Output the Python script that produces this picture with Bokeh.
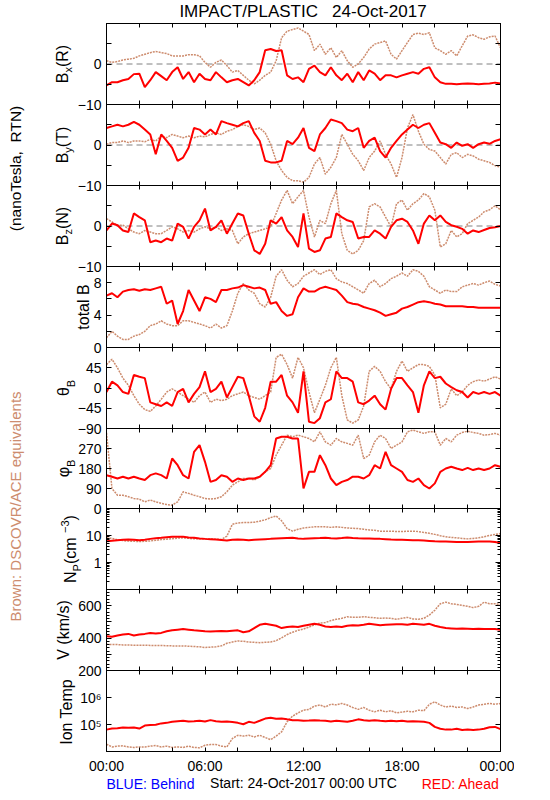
from bokeh.plotting import figure
from bokeh.models import Range1d, LinearAxis, LogAxis, FixedTicker, Label, Span
from bokeh.layouts import column
from bokeh.embed import file_html
from bokeh.resources import INLINE

FONT = "Liberation Sans"
RED = "#ff0000"
BROWN = "#cd8c6e"
BLUE = "#0000ff"

# ---------------- data (20-minute samples, 24-Oct-2017) ----------------
MINUTES = [0, 20, 40, 60, 80, 100, 120, 140, 160, 180, 200, 220,
           240, 260, 280, 300, 320, 340, 360, 380, 400, 420, 440, 460,
           480, 500, 520, 540, 560, 580, 600, 620, 640, 660, 680, 700,
           720, 740, 760, 780, 800, 820, 840, 860, 880, 900, 920, 940,
           960, 980, 1000, 1020, 1040, 1060, 1080, 1100, 1120, 1140, 1160, 1180,
           1200, 1220, 1240, 1260, 1280, 1300, 1320, 1340, 1360, 1380, 1400, 1420,
           1440]

BX_RED = [-5.3, -4.5, -4.5, -4, -3.7, -2.5, -2.4, -5.7, -4, -2, -3, -4,
          -2, -0.8, -3.7, -2, -4.5, -2.4, -3.7, -4, -2, -3.3, -4.5, -4,
          -3.7, -4.5, -5.3, -4, -2, 3.4, 3.7, 3.2, 3.4, -2.8, -3.7, -3.3,
          -4.5, -1.2, -0.4, -2, -2.8, -0.8, -2.8, -4, -2.4, -4.5, -2, -4,
          -1.6, -2.4, -4, -2.8, -2.8, -3.3, -2.8, -2.4, -2, -2.4, -1.2, -0.8,
          -3.3, -4.5, -4.9, -4.9, -5, -4.9, -4.8, -4.9, -5, -4.9, -4.8, -4.6,
          -4.8]
BX_BROWN = [0.8, 0.4, 0.6, 1, 1.2, 1.4, 2, 2.4, 2.8, 3.1, 2.8, 2.6,
            2, 2, 2, 2.3, 2.3, 2, 0.4, -0.8, 0.4, 1, -0.4, -2,
            -1.6, -2.8, -4, -4.9, -4, -2.8, -2, 0.8, 6.5, 8.1, 8.5, 8.9,
            8.1, 7.3, 3.3, 4.9, 2.4, 4, 1.6, 3.3, 0.8, -0.8, 0, 1.6,
            3.7, 4.9, 5.3, 5.7, 2.4, 1.2, 3.3, 5.3, 7.3, 7.6, 7.3, 7.7,
            4, 3.3, 2.4, 3.3, 2, 4.5, 6.9, 7.2, 6.5, 6.1, 6.7, 6.9,
            4]

BY_RED = [4.2, 4.6, 5, 4.6, 5, 5.7, 5, 3.8, 2.6, -2.3, 2.6, 1,
          -0.7, -3.9, -3.1, -0.7, 4.2, 3.8, 2.6, 3.8, 2.6, 5.9, 5.4, 5,
          4.6, 5.4, 5.9, 3, 1, -3.9, -4.3, -4.3, -3.9, 1, 0.2, 1.8,
          4.2, -0.7, -1.5, 2.6, 4.2, 6.3, 5.9, 5.4, 3.8, 3.4, 4.2, -0.7,
          1, 1.8, -1.5, -3.1, -0.7, 1, 2.6, 3.8, 5, 4.2, 5, 5.4,
          3, 0.6, 0.2, -0.7, 0.6, -0.2, 0.2, -0.7, 0.2, 0.6, 0.3, 1,
          1.4]
BY_BROWN = [0.2, 0.6, 0.6, 1, 0.6, 1, 1, 0.8, 1.4, 1, 2.2, 1.8,
            2.6, 2.2, 1.8, 2.2, 1.8, 2.2, 2, 2.6, 3, 2.6, 3.4, 3.8,
            4.6, 5, 4.6, 3.8, 4.2, 3, 0.2, -3.9, -6.3, -8, -8.8, -8.8,
            -9.2, -8, -4.7, -3.1, -7.2, -5.5, -3.1, 2.6, 0.2, -2.3, -3.9, -6.3,
            -3.1, -1.5, 1, -2.3, -4.7, -8, -3.1, 4.2, 7.5, 3.4, 0.2, -1.1,
            -1.5, -3.1, -4.7, -2.3, -1.9, -3.1, -2.3, -2.7, -3.5, -3.9, -4.3, -5.1,
            -5.5]

BZ_RED = [-1.1, 0.6, 0.2, -1.1, -1.5, 3.1, 2.2, 1.4, -4, -3.6, -4, -3.1,
          -3.6, 0.6, -0.2, -3.1, -0.2, 1.4, 4.3, -1.1, -0.2, 1.4, -1.9, 0.6,
          3.1, 2.6, -1.9, -6, -6.9, -4.4, 1.4, 0.6, 2.2, -1.1, -2.7, -5.2,
          3.1, -5.6, -6.4, -6, -3.1, -2.7, 3.1, 2.2, 1.4, 1, -3.1, -2.7,
          -2.7, -1.1, -1.9, -3.1, -0.2, 1.4, 1.8, 1, -1.1, -4.4, 0.6, 2.6,
          1.4, 2.6, 1, 0.2, -0.2, -0.7, -1.9, -1.1, -1.5, -1, -0.5, -0.3,
          0]
BZ_BROWN = [1.8, 1, 0.2, 0.2, -0.7, -1.5, -1.9, -1.1, -1.5, -1.9, -1.9, -1.1,
            -0.2, -0.7, -1.5, -1.1, -1.5, -0.7, -0.2, -0.7, -0.2, -1.1, -0.7, -1.1,
            -4.4, -2.7, -1.9, -1.5, -1.1, -0.7, -0.2, 3.1, 6.4, 8.8, 5.5, 7.2,
            8.8, 2.2, -2.7, 1.4, 0.6, 5.5, 8.8, -1.9, -6, -6.9, -6, -3.6,
            4.7, 5.5, 4.7, 2.2, -0.2, 5.5, 6.4, 3.9, 5.5, 6.4, 8, 7.2,
            3.9, -5.2, -4.4, -1.1, -2.7, -1.9, 0.6, 1.4, 2.2, 3.5, 4, 5,
            4]

BT_RED = [6.4, 6.7, 6.2, 6.9, 7.1, 7.2, 7, 7.2, 7.1, 7.3, 7.5, 5.4,
          5.8, 2.9, 4.5, 7.1, 5.8, 4.5, 6.2, 6, 5.6, 7.1, 7.1, 7.3,
          7.4, 7.7, 7.5, 7.3, 7.4, 7.1, 5.4, 5.6, 4.5, 3.9, 4.1, 6.2,
          7.3, 6.9, 6.9, 7.3, 7.5, 7.3, 7.1, 6.4, 5.6, 5.4, 5.3, 5,
          4.8, 4.6, 4.3, 3.9, 4.1, 4.3, 4.8, 5, 5.3, 5.6, 5.7, 5.6,
          5.4, 5.3, 5.1, 5.1, 5.1, 5.1, 5, 5, 4.9, 4.9, 4.9, 4.9,
          4.9]
BT_BROWN = [1.2, 2, 1.4, 1, 1, 1.4, 1.6, 2, 2.7, 2.9, 3.3, 2.9,
            2.7, 2.7, 3.3, 3.3, 3.1, 2.9, 2.7, 2.4, 2.9, 2.4, 2.7, 4.5,
            6.7, 7.9, 7.1, 6.7, 5.4, 5, 6.2, 8.8, 9.6, 8.3, 7.5, 7.9,
            8.8, 9.2, 9.6, 9, 9.4, 9.6, 8.5, 8.1, 7.9, 7.5, 7.1, 6.7,
            7.9, 8.3, 7.5, 7.9, 8.5, 8.8, 9.2, 8.8, 9.6, 9.4, 8.8, 7.5,
            7.1, 6.7, 7.1, 6.9, 6.9, 7.5, 7.7, 7.9, 7.7, 8, 8.2, 7.8,
            7.6]

TH_RED = [-9, 14, 6, -9, -13, 29, 25, 22, -32, -36, -40, -32,
          -40, -9, -2, -32, -13, 2, 37, -9, -2, 14, -21, 2,
          25, 22, -17, -63, -75, -44, 14, 14, 29, -17, -32, -55,
          37, -75, -78, -67, -32, -25, 37, 22, 22, 14, -32, -36,
          -28, -17, -36, -48, -2, 22, 22, 6, -9, -55, 6, 37,
          22, 25, 10, 2, -5, -9, -21, -9, -13, -9, -13, -9,
          -17]
TH_BROWN = [52, 64, 45, 22, 6, -17, -36, -48, -52, -40, -25, -9,
            -2, -9, -17, -25, -32, -17, -9, -32, -25, -28, -25, -17,
            -13, -9, -17, -21, -25, -17, -9, 68, 75, 52, 22, 68,
            45, -9, -55, -25, 6, 45, 68, -17, -71, -78, -71, -40,
            37, 48, 37, 14, -2, 37, 60, 37, 45, 52, 52, 48,
            29, -44, -36, -2, -17, -9, 6, 14, 18, 15, 20, 25,
            20]

PH_RED = [150, 143, 135, 143, 135, 143, 135, 128, 150, 158, 150, 135,
          225, 195, 150, 135, 255, 285, 210, 120, 128, 150, 143, 120,
          135, 128, 135, 135, 143, 165, 195, 315, 323, 323, 315, 315,
          90, 165, 165, 240, 195, 135, 105, 120, 128, 143, 143, 135,
          150, 195, 180, 255, 195, 180, 165, 128, 120, 135, 105, 90,
          113, 165, 180, 188, 180, 173, 183, 173, 180, 173, 180, 195,
          188]
PH_BROWN = [340, 90, 60, 60, 53, 45, 42, 30, 38, 30, 23, 18,
            15, 30, 75, 68, 60, 53, 45, 42, 45, 53, 75, 105,
            120, 135, 135, 128, 143, 165, 180, 240, 285, 330, 323, 330,
            323, 315, 300, 345, 300, 285, 315, 300, 293, 285, 330, 225,
            240, 300, 330, 315, 270, 285, 300, 345, 353, 345, 338, 345,
            345, 285, 315, 300, 330, 342, 348, 342, 338, 330, 333, 338,
            330]

NP_RED = [6.1, 6.4, 6.7, 6.9, 7.1, 6.9, 6.7, 7.0, 7.5, 7.9, 8.2, 8.6,
          8.9, 9.0, 8.9, 8.5, 8.2, 7.8, 7.5, 7.3, 7.1, 6.8, 6.5, 6.9,
          7.1, 6.9, 6.7, 6.9, 7.1, 7.3, 7.5, 7.7, 7.9, 8.1, 8.2, 7.8,
          7.5, 7.7, 7.9, 8.0, 8.2, 7.9, 7.7, 8.0, 8.4, 8.1, 7.9, 7.8,
          7.7, 7.6, 7.5, 7.3, 7.1, 7.0, 6.9, 6.8, 6.7, 6.6, 6.5, 6.3,
          6.1, 6.0, 6.0, 5.9, 5.8, 5.8, 5.8, 5.9, 6.0, 6.0, 6.0, 5.7,
          5.3]
NP_BROWN = [8.2, 7.8, 7.0, 6.5, 6.2, 6.1, 6.0, 6.1, 6.3, 6.6, 7.1, 7.3,
            7.6, 8.0, 8.2, 7.9, 7.5, 7.5, 7.5, 7.4, 7.3, 7.1, 9.5, 26,
            29, 30, 30, 31, 34, 38, 46, 53, 35, 18, 14.5, 17,
            19, 20, 21, 21, 21, 20, 21, 20, 19, 18.5, 18, 17,
            16, 15.5, 14.5, 14.5, 14.5, 14, 14, 14.5, 14.5, 14, 13, 12,
            11, 9.8, 8.9, 8.5, 8.2, 7.8, 7.5, 7.8, 8.2, 9, 10, 11,
            11.9]

V_RED = [412, 408, 416, 422, 426, 416, 422, 426, 432, 428, 432, 442,
         448, 452, 456, 452, 448, 446, 442, 440, 442, 444, 442, 446,
         448, 436, 442, 462, 482, 488, 482, 476, 462, 468, 472, 468,
         476, 482, 488, 482, 472, 468, 472, 468, 476, 480, 478, 482,
         488, 484, 480, 482, 484, 486, 486, 482, 488, 486, 482, 488,
         476, 468, 462, 460, 458, 460, 458, 456, 458, 456, 456, 456,
         452]
V_BROWN = [362, 360, 360, 358, 358, 356, 356, 356, 355, 354, 354, 353,
           352, 352, 352, 350, 348, 346, 342, 344, 346, 352, 368, 376,
           382, 380, 376, 374, 372, 374, 376, 384, 402, 422, 436, 448,
           456, 468, 482, 492, 496, 508, 516, 522, 532, 528, 528, 532,
           528, 526, 522, 524, 522, 516, 522, 528, 518, 516, 522, 542,
           572, 612, 622, 612, 608, 602, 596, 588, 596, 622, 612, 612,
           608]

# ion temperature in thousands of kelvin
T_RED_KK = [64.6, 70.8, 72.4, 77.6, 75.9, 77.6, 70.8, 91.2, 95.5, 97.7, 110, 115,
            126, 132, 138, 129, 132, 138, 129, 145, 132, 126, 129, 123,
            115, 102, 126, 115, 138, 166, 178, 162, 166, 155, 145, 145,
            138, 141, 145, 141, 138, 129, 138, 132, 126, 138, 155, 145,
            138, 145, 138, 132, 138, 132, 138, 129, 132, 129, 126, 115,
            81.3, 69.2, 64.6, 64.6, 69.2, 63.1, 64.6, 63.1, 64.6, 69.2, 79.4, 81.3,
            67.6]
T_BROWN_KK = [18.6, 14.8, 15.8, 16.2, 14.8, 14.1, 14.8, 14.8, 15.8, 16.6, 14.8, 15.8,
              14.1, 14.8, 14.1, 15.8, 14.1, 13.8, 17.0, 18.2, 18.2, 15.8, 14.8, 30.2,
              39.8, 37.2, 39.8, 34.7, 39.8, 33.1, 27.5, 37.2, 53.7, 126, 204, 269,
              339, 363, 479, 525, 447, 562, 537, 603, 525, 427, 363, 427,
              339, 295, 339, 295, 324, 269, 288, 309, 295, 339, 324, 562,
              692, 525, 447, 479, 427, 447, 389, 447, 525, 562, 603, 562,
              603]

TIME_TICKS = [0, 6, 12, 18, 24]
TIME_MINOR = [2, 4, 8, 10, 14, 16, 20, 22]
TIME_LABELS = ["00:00", "06:00", "12:00", "18:00", "00:00"]

HOURS = [m / 60 for m in MINUTES]

# ---------------- layout constants (page pixels; bokeh's page has no body margin) ----------------
TEXT_W = 520
PAGE_H = 796
COL_X = 38
LEFT = 68          # frame left edge at page x = 106
RIGHT = 14
FRAME_W = 394
FRAME_H = [81, 81, 81, 81, 81, 80, 81, 81, 81]
N = len(FRAME_H)
TOPS = [23] + [10] * (N - 1)
BOTS = [10] * (N - 1) + [45]
FRAME_TOPS = [23 + sum(FRAME_H[:k]) for k in range(N)]

WIDTHS = {"B": .667, "x": .5, "y": .5, "z": .5, "(": .333, ")": .333, "R": .722,
          "T": .611, "N": .722, "θ": .556, "φ": .65, "P": .667, " ": .278,
          "c": .5, "m": .833, "−": .584, "3": .556, "t": .278, "o": .556,
          "a": .556, "l": .222, "I": .278, "n": .556, "e": .556, "V": .667,
          "k": .5, "/": .278, "s": .5, "p": .556}


def text_w(t, size):
    return sum(WIDTHS.get(c, .556) for c in t) * size


# transparent full-page figure that carries all free-standing texts
tf = figure(width=TEXT_W, height=PAGE_H, x_range=Range1d(0, 1), y_range=Range1d(0, 1),
            x_axis_location=None, y_axis_location=None, output_backend="svg",
            toolbar_location=None, min_border=0, title=None)
tf.grid.visible = False
tf.outline_line_color = None
tf.border_fill_color = None
tf.background_fill_color = None


def page_label(x, y, text, size, color="black", align="center", angle=0):
    tf.add_layout(Label(x=x, y=PAGE_H - y, x_units="screen", y_units="screen", text=text,
                        angle=angle, angle_units="deg", text_align=align,
                        text_baseline="middle", text_font=FONT,
                        text_font_size=f"{size}px", text_color=color))


def vtitle(page_yc, xc, pieces):
    total = sum(text_w(t, s) for t, s, dx in pieces)
    y = page_yc + total / 2          # page y of the start (bottom) of the rotated text
    for t, s, dx in pieces:
        page_label(xc + dx, y, t, s, align="left", angle=90)
        y -= text_w(t, s)


def style_axis(ax, show, tick_len, minor_len, standoff=5):
    ax.axis_line_color = "black"
    ax.axis_line_width = 1
    ax.major_tick_line_color = "black"
    ax.minor_tick_line_color = "black"
    ax.major_tick_in = tick_len
    ax.major_tick_out = 0
    ax.minor_tick_in = minor_len
    ax.minor_tick_out = 0
    ax.major_label_text_font = FONT
    if show:
        ax.major_label_text_color = "black"
        ax.major_label_text_font_size = "14px"
        ax.major_label_standoff = standoff
    else:
        ax.major_label_text_color = None
        ax.major_label_text_font_size = "1px"
        ax.major_label_standoff = 0


def mk_labels(ticks, shown):
    return {t: shown.get(t, "") for t in ticks}


SPECS = [
    dict(yr=(-10, 10), log=False, ticks=[-10, -5, 0, 5, 10], minor=[],
         labels={-10: "−10", 0: "0"}, red=BX_RED, brown=BX_BROWN, zero=True,
         title=[("B", 16, 0), ("x", 11, 5), ("(R)", 16, 0)], tx=62),
    dict(yr=(-10, 10), log=False, ticks=[-10, -5, 0, 5, 10], minor=[],
         labels={-10: "−10", 0: "0"}, red=BY_RED, brown=BY_BROWN, zero=True,
         title=[("B", 16, 0), ("y", 11, 5), ("(T)", 16, 0)], tx=62),
    dict(yr=(-10, 10), log=False, ticks=[-10, -5, 0, 5, 10], minor=[],
         labels={-10: "−10", 0: "0"}, red=BZ_RED, brown=BZ_BROWN, zero=True,
         title=[("B", 16, 0), ("z", 11, 5), ("(N)", 16, 0)], tx=62),
    dict(yr=(0, 10), log=False, ticks=[0, 2, 4, 6, 8, 10], minor=[],
         labels={0: "0", 4: "4", 8: "8"}, red=BT_RED, brown=BT_BROWN, zero=False,
         title=[("total B", 16, 0)], tx=83),
    dict(yr=(-90, 90), log=False, ticks=[-90, -45, 0, 45, 90], minor=[],
         labels={-90: "−90", -45: "−45", 0: "0", 45: "45"}, red=TH_RED, brown=TH_BROWN, zero=False,
         title=[("θ", 16, 0), ("B", 11, 7)], tx=63),
    dict(yr=(0, 360), log=False, ticks=[0, 90, 180, 270, 360], minor=[],
         labels={0: "0", 90: "90", 180: "180", 270: "270"}, red=PH_RED, brown=PH_BROWN, zero=False,
         title=[("φ", 16, 0), ("B", 11, 7)], tx=63),
    dict(yr=(0.1, 100), log=True, ticks=[0.1, 1, 10, 100],
         minor=[m * d for d in (0.1, 1, 10) for m in range(2, 10)],
         labels={1: "1", 10: "10"}, red=NP_RED, brown=NP_BROWN, zero=False,
         title=[("N", 16, 0), ("P", 11, 6), (" (cm", 16, 0), ("−3", 11, -6), (")", 16, 0)], tx=70),
    dict(yr=(200, 700), log=False, ticks=[200, 300, 400, 500, 600, 700],
         minor=[v for v in range(200, 701, 20) if v % 100],
         labels={200: "200", 400: "400", 600: "600"}, red=V_RED, brown=V_BROWN, zero=False,
         title=[("V (km/s)", 16, 0)], tx=63),
    dict(yr=(1e4, 1e7), log=True, ticks=[1e5, 1e6], minor=[],
         labels={1e5: "10⁵", 1e6: "10⁶"}, red=[v * 1e3 for v in T_RED_KK],
         brown=[v * 1e3 for v in T_BROWN_KK], zero=False,
         title=[("Ion Temp", 16, 0)], tx=66),
]

panels = []
for i, sp in enumerate(SPECS):
    fh = FRAME_H[i]
    top, bottom = TOPS[i], BOTS[i]
    margin = (0, 0, 0, 0) if i == 0 else (-(top + BOTS[i - 1]), 0, 0, 0)
    p = figure(width=LEFT + FRAME_W + RIGHT, height=fh + top + bottom,
               x_range=Range1d(0, 24), y_range=Range1d(*sp["yr"]),
               y_axis_type="log" if sp["log"] else "linear",
               x_axis_location=None, y_axis_location=None,
               output_backend="svg", toolbar_location=None,
               min_border_left=LEFT, min_border_right=RIGHT,
               min_border_top=top, min_border_bottom=bottom, margin=margin)
    p.grid.visible = False
    p.outline_line_color = "black"
    p.outline_line_width = 1
    p.background_fill_color = None
    p.border_fill_color = None

    AxisCls = LogAxis if sp["log"] else LinearAxis
    for loc in ("below", "above"):
        ax = LinearAxis(ticker=FixedTicker(ticks=TIME_TICKS, minor_ticks=TIME_MINOR))
        show = (loc == "below" and i == N - 1)
        style_axis(ax, show, 4, 4, standoff=6)
        if show:
            ax.major_label_overrides = dict(zip(TIME_TICKS, TIME_LABELS))
        else:
            ax.major_label_overrides = {t: "" for t in TIME_TICKS}
        p.add_layout(ax, loc)
    for loc in ("left", "right"):
        ax = AxisCls(ticker=FixedTicker(ticks=sp["ticks"], minor_ticks=sp["minor"]))
        show = loc == "left"
        style_axis(ax, show, 5, 3, standoff=5)
        if show:
            ax.major_label_overrides = mk_labels(sp["ticks"], sp["labels"])
        else:
            ax.major_label_overrides = {t: "" for t in sp["ticks"]}
        p.add_layout(ax, loc)

    if sp["zero"]:
        p.add_layout(Span(location=0, dimension="width", line_color="#808080",
                          line_dash="6 4", line_width=1, level="underlay"))

    p.line(HOURS, sp["brown"], line_color=BROWN, line_width=1.5, line_dash="2 1")
    p.line(HOURS, sp["red"], line_color=RED, line_width=2)

    vtitle(FRAME_TOPS[i] + fh / 2, sp["tx"], sp["title"])
    panels.append(p)

# free-standing texts
page_label(302.5, 11, "IMPACT/PLASTIC \u00a0 24-Oct-2017", 17)
page_label(106, 783, "BLUE: Behind", 14, color=BLUE, align="left")
page_label(303, 782, "Start: 24-Oct-2017 00:00 UTC", 14)
page_label(499, 783, "RED: Ahead", 14, color=RED, align="right")
page_label(15, 168, "(nanoTesla,\u00a0 RTN)", 15.5, angle=90)
page_label(15, 506, "Brown: DSCOVR/ACE equivalents", 15, color=BROWN, angle=90)

# panels stacked on top of the text layer (vertical overlap only)
cols = column(*panels, spacing=0, margin=(-PAGE_H, 0, 0, COL_X))
layout = column(tf, cols, spacing=0)
open("out.html", "w").write(file_html(layout, INLINE))
